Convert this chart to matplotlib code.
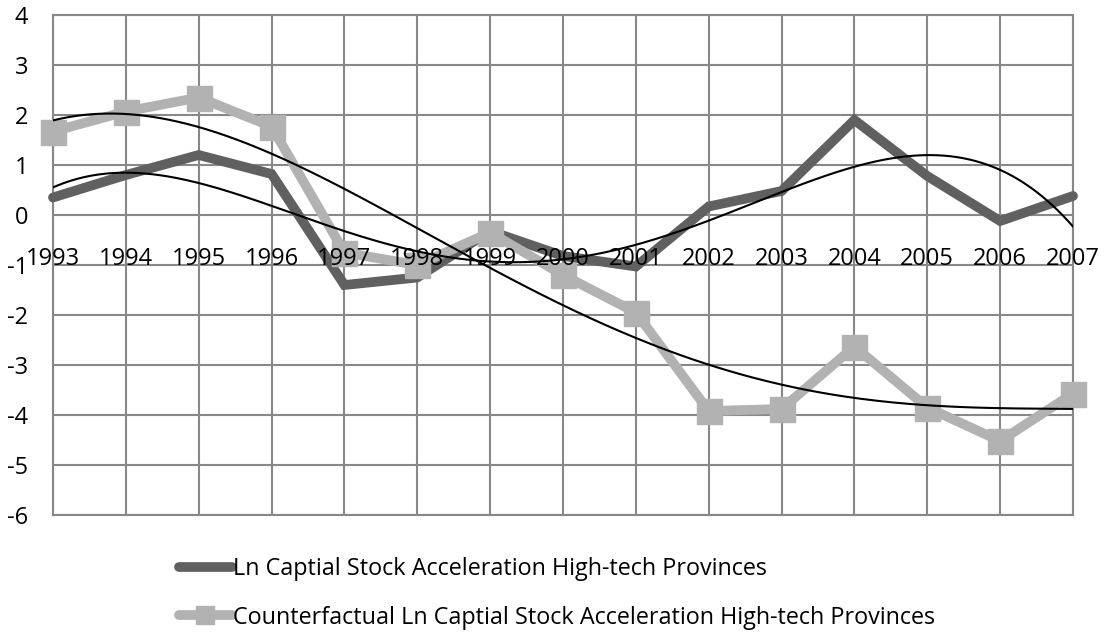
import numpy as np
import matplotlib
matplotlib.use("Agg")
import matplotlib.pyplot as plt
from matplotlib.lines import Line2D

years = ["1993", "1994", "1995", "1996", "1997", "1998", "1999", "2000",
         "2001", "2002", "2003", "2004", "2005", "2006", "2007"]
actual = [0.35, 0.80, 1.20, 0.82, -1.40, -1.25, -0.32, -0.82,
          -1.03, 0.17, 0.48, 1.90, 0.78, -0.12, 0.38]
counterfactual = [1.67, 2.07, 2.35, 1.77, -0.75, -1.00, -0.35, -1.20,
                  -1.95, -3.92, -3.88, -2.63, -3.85, -4.52, -3.57]
yticks = [4, 3, 2, 1, 0, -1, -2, -3, -4, -5, -6]
name_a = "Ln Captial Stock Acceleration High-tech Provinces"
name_c = "Counterfactual Ln Captial Stock Acceleration High-tech Provinces"

plt.rcParams['font.family'] = ['Open Sans', 'DejaVu Sans']
plt.rcParams['axes.unicode_minus'] = False

DARK = "#606060"
LIGHT = "#b2b2b2"
GRID = "#888888"

fig = plt.figure(figsize=(11.06, 6.33), dpi=100)
ax = fig.add_axes([53/1106, 1-515/633, (1073-53)/1106, 500/633])

x = np.arange(len(years))
ax.set_xlim(0, len(years)-1)
ax.set_ylim(-6, 4)
ax.set_xticks(x)
ax.set_yticks(yticks)
ax.grid(True, color=GRID, linewidth=1.5)
ax.set_axisbelow(True)
for s in ax.spines.values():
    s.set_color(GRID)
    s.set_linewidth(1.5)
ax.tick_params(axis='x', length=0, labelbottom=False)
ax.tick_params(axis='y', length=0, pad=18, labelsize=17)

ax.plot(x, actual, color=DARK, linewidth=7, solid_capstyle='round',
        solid_joinstyle='miter', clip_on=False, zorder=3)
ax.plot(x, counterfactual, color=LIGHT, linewidth=7, marker='s', markersize=18,
        solid_capstyle='round', solid_joinstyle='miter', clip_on=False, zorder=3)

# polynomial trendlines (order 4)
xs = np.linspace(0, len(years)-1, 400)
pa = np.polyfit(x + 1, actual, 4)
pc = np.polyfit(x + 1, counterfactual, 4)
ax.plot(xs, np.polyval(pa, xs + 1), color='black', linewidth=1.5, zorder=4)
ax.plot(xs, np.polyval(pc, xs + 1), color='black', linewidth=1.5, zorder=4)

for i, lab in enumerate(years):
    ax.text(x[i], -1, lab, ha='center', va='baseline', fontsize=17, zorder=5)

handles = [
    Line2D([], [], color=DARK, linewidth=7, solid_capstyle='round'),
    Line2D([], [], color=LIGHT, linewidth=7, marker='s', markersize=13,
           solid_capstyle='round'),
]
fig.legend(handles, [name_a, name_c], loc='upper left',
           bbox_to_anchor=(179/1106, 1-557/633), frameon=False,
           fontsize=16.8, handlelength=2.25, handletextpad=0.05,
           labelspacing=1.05, borderaxespad=0, borderpad=0)

fig.savefig("out.png", dpi=100)
